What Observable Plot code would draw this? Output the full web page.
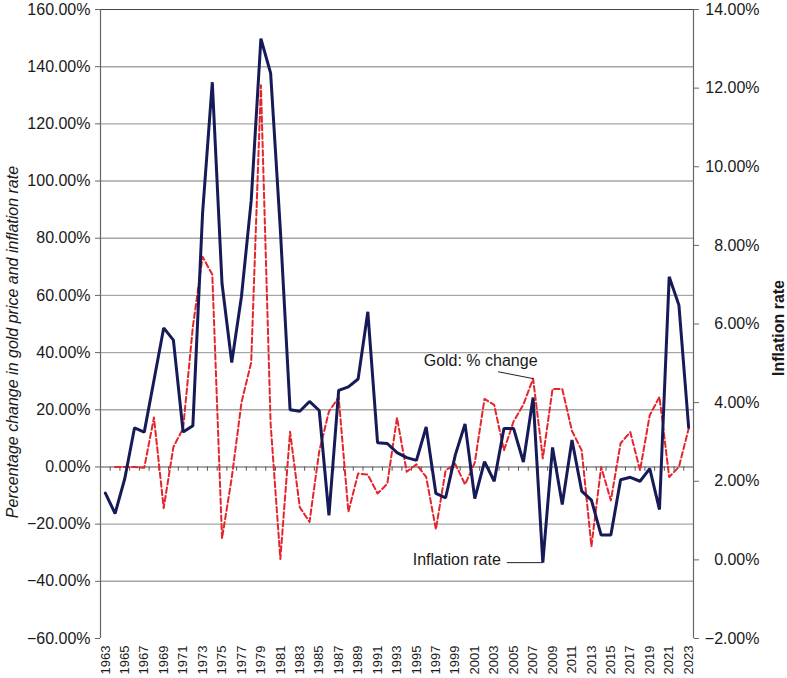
<!DOCTYPE html>
<html><head><meta charset="utf-8">
<script src="https://cdn.jsdelivr.net/npm/d3@7"></script>
<script src="https://cdn.jsdelivr.net/npm/@observablehq/plot@0.6"></script>
<style>body{margin:0;background:#fff} svg{display:block}</style>
</head><body><div id="chart"></div>
<script>
// ---- data ----
const years = d3.range(1963, 2024);
// inflation rate, % (right axis)
const inflation = [
  1.70, 1.18, 2.07, 3.36, 3.25, 4.57, 5.90, 5.59, 3.25, 3.41,
  8.82, 12.15, 7.03, 5.02, 6.70, 9.13, 13.26, 12.38, 8.40, 3.82,
  3.78, 4.03, 3.80, 1.13, 4.31, 4.40, 4.60, 6.31, 2.98, 2.96,
  2.73, 2.60, 2.53, 3.38, 1.69, 1.58, 2.67, 3.46, 1.56, 2.50,
  2.00, 3.34, 3.34, 2.49, 4.13, -0.07, 2.86, 1.41, 3.05, 1.75,
  1.52, 0.63, 0.63, 2.04, 2.10, 2.00, 2.32, 1.28, 7.20, 6.48,
  3.37
];
const goldYears = d3.range(1964, 2024);
// gold price, % change (left axis)
const goldChange = [
  0, 0, 0, -0.3, 17.3, -14.4, 7.0, 13.5, 49.0,
  73.5, 67.3, -25.0, -3.8, 22.5, 36.5, 133.5, 15.0, -32.2, 12.3,
  -14.1, -19.2, 5.5, 19.4, 24.4, -15.7, -2.3, -2.7, -9.3, -5.9,
  17.2, -1.7, 0.9, -3.5, -21.8, -1.2, 1.0, -6.1, 1.5, 23.8,
  21.7, 5.8, 16.0, 21.8, 30.9, 3.0, 27.3, 27.3, 12.6, 5.8,
  -27.8, 0.0, -11.7, 8.3, 12.2, -1.2, 18.1, 24.5, -3.5, 0.0,
  13.4
];
const leftTicks = [-60, -40, -20, 0, 20, 40, 60, 80, 100, 120, 140, 160];
const rightTicks = [-2, 0, 2, 4, 6, 8, 10, 12, 14];
const yearTicks = d3.range(1963, 2024, 2);

// map right-axis (inflation) values onto the left-axis scale
const toLeft = r => (r + 2) * 220 / 16 - 60;
const toRight = l => (l + 60) * 16 / 220 - 2;

const infl = years.map((y, i) => ({year: y, value: toLeft(inflation[i])}));
const gold = goldYears.map((y, i) => ({year: y, value: goldChange[i]}));
const pct = v => (v < 0 ? "\u2212" : "") + Math.abs(v).toFixed(2) + "%";
const boundaries = d3.range(1963.5, 2023.5, 1);

const plot = Plot.plot({
  width: 787, height: 678,
  marginLeft: 100, marginRight: 94, marginTop: 9, marginBottom: 40,
  style: {fontFamily: "'Liberation Sans', Arial, Helvetica, sans-serif", fontSize: "16px", color: "#1a1a1a", background: "#fff"},
  x: {domain: [1962.5, 2023.5]},
  y: {domain: [-60, 160]},
  marks: [
    Plot.gridY(leftTicks.filter(d => d > -60 && d < 160), {stroke: "#a6a6a6", strokeOpacity: 1, strokeWidth: 1.4}),
    Plot.ruleY([160], {stroke: "#444", strokeWidth: 1.2}),
    Plot.ruleY([0], {stroke: "#a0a0a0", strokeWidth: 1.4}),
    Plot.ruleX(boundaries, {x: d => d, y1: 0, y2: -1.5, stroke: "#555", strokeWidth: 1}),
    Plot.ruleX([1962.5, 2023.5], {stroke: "#666", strokeWidth: 1.2}),
    Plot.axisY(leftTicks, {anchor: "left", tickFormat: pct, tickSize: 5, tickPadding: 5, fontSize: 16, label: null, stroke: "#666"}),
    Plot.axisY(rightTicks.map(toLeft), {anchor: "right", textAnchor: "end", tickFormat: d => pct(Math.round(toRight(d) * 100) / 100), tickSize: 5, tickPadding: 61, fontSize: 16, label: null, stroke: "#666"}),
    Plot.axisX(yearTicks, {anchor: "bottom", tickSize: 0, tickPadding: 7, tickRotate: -90, tickFormat: d => String(d), fontSize: 13, label: null}),
    Plot.line(gold, {x: "year", y: "value", stroke: "#e4252b", strokeWidth: 2, strokeDasharray: "5.5,3"}),
    Plot.line(infl, {x: "year", y: "value", stroke: "#161b57", strokeWidth: 3, strokeLinejoin: "miter"}),
    Plot.text(["Percentage change in gold price and inflation rate"], {frameAnchor: "left", textAnchor: "middle", dx: -88, dy: 18, rotate: -90, fontStyle: "italic", fontSize: 16}),
    Plot.text(["Inflation rate"], {frameAnchor: "right", textAnchor: "middle", dx: 85, dy: 4, rotate: -90, fontWeight: "bold", fontSize: 16}),
    Plot.text([{x: 2001.6, y: 37.2, t: "Gold: % change"}], {x: "x", y: "y", text: "t", fontSize: 16}),
    Plot.link([{x1: 2003.4, y1: 33.3, x2: 2007, y2: 30.9}], {x1: "x1", y1: "y1", x2: "x2", y2: "y2", stroke: "#222", strokeWidth: 1}),
    Plot.text([{x: 1999.15, y: -32.6, t: "Inflation rate"}], {x: "x", y: "y", text: "t", fontSize: 16}),
    Plot.link([{x1: 2004.3, x2: 2008, y: toLeft(-0.07)}], {x1: "x1", y1: "y", x2: "x2", y2: "y", stroke: "#222", strokeWidth: 1})
  ]
});
document.getElementById("chart").appendChild(plot);
</script>
</body></html>
